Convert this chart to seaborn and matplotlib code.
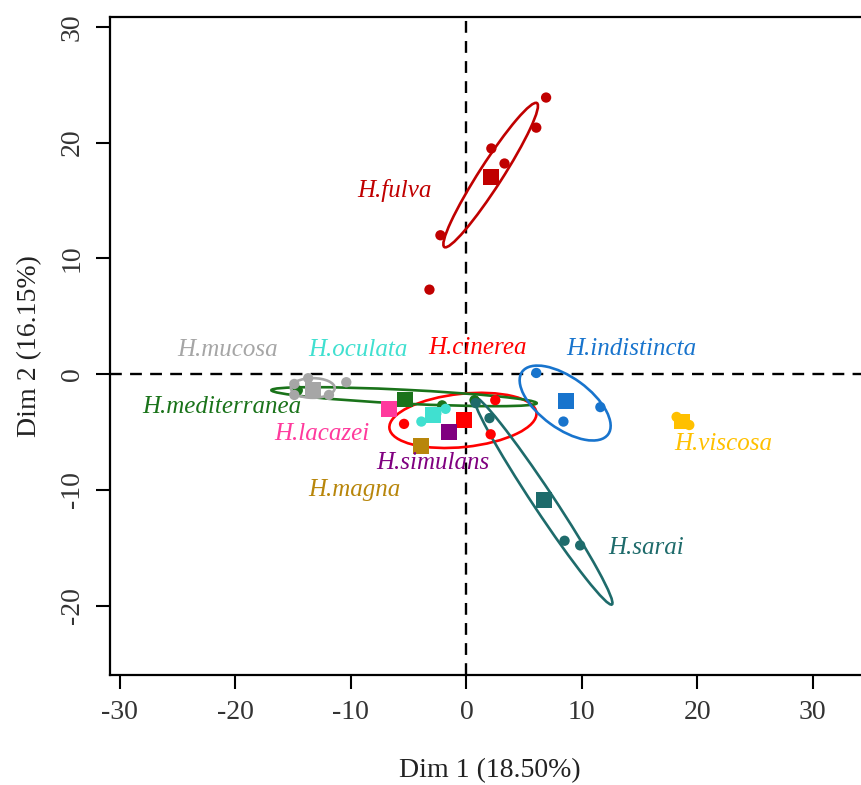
import numpy as np
import pandas as pd
import matplotlib
matplotlib.use("Agg")
import matplotlib.pyplot as plt
from matplotlib.patches import Ellipse
import seaborn as sns

# species, colours and label positions
species = ['H.fulva', 'H.cinerea', 'H.mediterranea', 'H.mucosa', 'H.oculata',
           'H.lacazei', 'H.simulans', 'H.magna', 'H.indistincta', 'H.viscosa', 'H.sarai']
colors = ['#C00000', '#FF0000', '#1A731A', '#A6A6A6', '#40E0D0',
          '#FF3A9D', '#800080', '#B8860B', '#1874CD', '#FFC000', '#1E6B6B']
label_x = [-6.2, 0.95, -21.2, -20.7, -9.4, -12.5, -2.9, -9.7, 14.3, 22.2, 15.6]
label_y = [15.9, 2.3, -2.8, 2.1, 2.1, -5.2, -7.7, -10.0, 2.2, -6.0, -15.0]

# individuals (circles)
ind_species = (['H.fulva'] * 6 + ['H.cinerea'] * 3 + ['H.mediterranea'] * 3 +
               ['H.mucosa'] * 5 + ['H.oculata'] * 3 + ['H.indistincta'] * 3 +
               ['H.viscosa'] * 2 + ['H.sarai'] * 4)
ind_x = [6.9, 6.05, 2.16, 3.3, -2.25, -3.2,
         -5.4, 2.5, 2.1,
         -14.6, -2.1, 0.7,
         -14.9, -13.7, -10.4, -14.9, -11.9,
         -3.9, -2.6, -1.8,
         6.05, 11.6, 8.4,
         18.2, 19.3,
         0.8, 2.0, 8.5, 9.85]
ind_y = [23.9, 21.3, 19.5, 18.2, 12.0, 7.3,
         -4.3, -2.25, -5.2,
         -1.4, -2.7, -2.25,
         -0.85, -0.35, -0.7, -1.8, -1.8,
         -4.1, -3.4, -3.0,
         0.1, -2.85, -4.1,
         -3.7, -4.4,
         -2.5, -3.8, -14.4, -14.8]

# species barycentres (squares)
cen_x = [2.1, -0.2, -5.3, -13.3, -2.9, -6.7, -1.5, -3.9, 8.6, 18.7, 6.75]
cen_y = [17.0, -4.0, -2.2, -1.4, -3.5, -3.0, -5.0, -6.2, -2.3, -4.1, -10.9]

# confidence ellipses: species, centre, semi-axes, angle (deg)
ell_species = ['H.fulva', 'H.cinerea', 'H.mediterranea', 'H.mucosa', 'H.indistincta', 'H.sarai']
ell_cx = [2.1, -0.3, -5.4, -13.3, 8.55, 6.65]
ell_cy = [17.2, -4.0, -1.95, -1.2, -2.5, -10.95]
ell_a = [7.4, 6.4, 11.5, 1.9, 4.6, 10.75]
ell_b = [1.0, 2.3, 0.6, 0.85, 2.2, 0.9]
ell_ang = [57.2, 6.0, -2.8, 0.0, -36.0, -56.4]

sns.set_style("white")
plt.rcParams['font.family'] = ['Liberation Serif', 'DejaVu Serif']
plt.rcParams['axes.unicode_minus'] = False

palette = dict(zip(species, colors))
ind_df = pd.DataFrame({'x': ind_x, 'y': ind_y, 'sp': ind_species})
cen_df = pd.DataFrame({'x': cen_x, 'y': cen_y, 'sp': species})

fig = plt.figure(figsize=(8.62, 7.85), dpi=100)
ax = fig.add_axes([110 / 862, 110 / 785, 1.0 - 110 / 862 + 0.01, (675 - 17) / 785])

# reference lines through the origin
ax.axhline(0, color='black', lw=1.7, ls=(0, (5, 3.5)), zorder=1)
ax.axvline(0, color='black', lw=1.7, ls=(0, (5, 3.5)), zorder=1)

for sp, cx, cy, a, b, ang in zip(ell_species, ell_cx, ell_cy, ell_a, ell_b, ell_ang):
    ax.add_patch(Ellipse((cx, cy), 2 * a, 2 * b, angle=ang, fill=False,
                         edgecolor=palette[sp], lw=1.9, zorder=3))

sns.scatterplot(data=ind_df, x='x', y='y', hue='sp', palette=palette, s=55,
                marker='o', edgecolor='none', legend=False, ax=ax, zorder=4)
sns.scatterplot(data=cen_df, x='x', y='y', hue='sp', palette=palette, s=130,
                marker='s', edgecolor='none', legend=False, ax=ax, zorder=5)

for sp, lx, ly in zip(species, label_x, label_y):
    ax.text(lx, ly, sp, color=palette[sp], fontsize=18, style='italic',
            ha='center', va='center', zorder=6)

ax.set_xlim(-30.86, 35.0)
ax.set_ylim(-26.0, 30.86)
ax.set_xticks([-30, -20, -10, 0, 10, 20, 30])
ax.set_yticks([-20, -10, 0, 10, 20, 30])
ax.tick_params(axis='both', direction='out', length=10, width=1.5,
               labelsize=20, color='black', labelcolor='#333333', pad=8, left=True, bottom=True)
for lab in ax.get_yticklabels():
    lab.set_rotation(90)
    lab.set_va('center')
ax.set_xlabel('Dim 1 (18.50%)', fontsize=20, color='#222222', labelpad=24)
ax.set_ylabel('Dim 2 (16.15%)', fontsize=20, color='#222222', labelpad=13)
ax.spines['right'].set_visible(False)
for s in ['left', 'bottom', 'top']:
    ax.spines[s].set_linewidth(1.6)
    ax.spines[s].set_color('black')

fig.savefig('out.png', dpi=100)
